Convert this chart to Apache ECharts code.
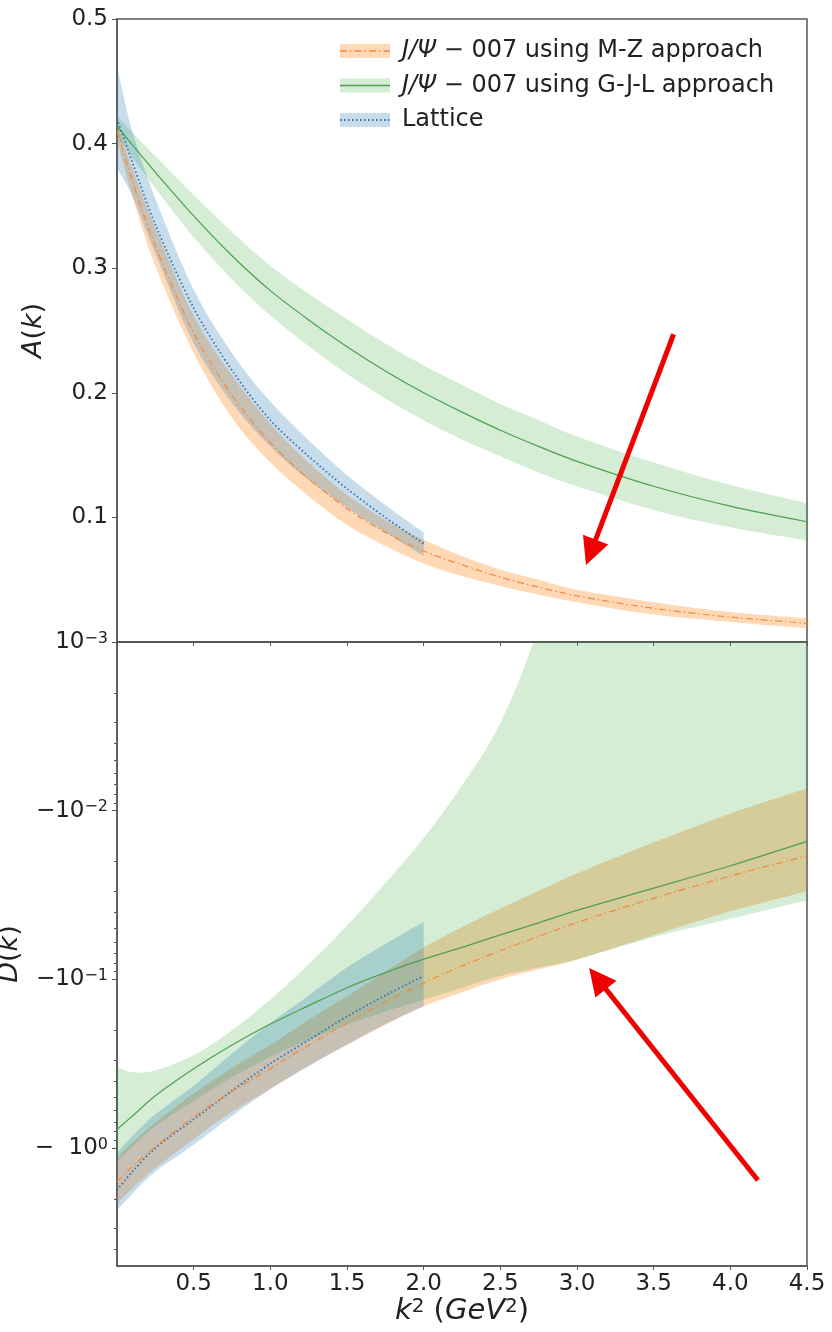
<!DOCTYPE html>
<html>
<head>
<meta charset="utf-8">
<script src="https://cdn.jsdelivr.net/npm/echarts@6.0.0/dist/echarts.min.js"></script>
<style>
html, body { margin: 0; padding: 0; background: #fff; }
#main { width: 832px; height: 1332px; }
</style>
</head>
<body>
<div id="main"></div>
<script>
// k^2 (GeV^2) sample points
var kGrid = [0, 0.1, 0.25, 0.5, 0.75, 1.0, 1.25, 1.5, 1.75, 2.0, 2.25, 2.5, 2.75, 3.0, 3.5, 4.0, 4.5];
var kLattice = [0, 0.1, 0.25, 0.5, 0.75, 1.0, 1.25, 1.5, 1.75, 2.0];

// A(k), upper panel
var mzA    = [0.410, 0.370, 0.318, 0.248, 0.198, 0.160, 0.131, 0.107, 0.088, 0.073, 0.062, 0.052, 0.044, 0.037, 0.027, 0.020, 0.015];
var mzAHi  = [0.416, 0.380, 0.332, 0.262, 0.214, 0.175, 0.144, 0.118, 0.098, 0.082, 0.069, 0.058, 0.050, 0.042, 0.032, 0.024, 0.019];
var mzALo  = [0.403, 0.358, 0.302, 0.232, 0.180, 0.144, 0.117, 0.094, 0.077, 0.063, 0.053, 0.045, 0.038, 0.032, 0.022, 0.016, 0.011];
var gjlA   = [0.414, 0.399, 0.377, 0.342, 0.310, 0.282, 0.2585, 0.237, 0.2175, 0.200, 0.1845, 0.170, 0.157, 0.145, 0.125, 0.109, 0.0965];
var gjlAHi = [0.422, 0.409, 0.390, 0.359, 0.329, 0.302, 0.2795, 0.259, 0.2395, 0.222, 0.2065, 0.191, 0.178, 0.165, 0.144, 0.126, 0.1115];
var gjlALo = [0.406, 0.389, 0.364, 0.325, 0.291, 0.262, 0.2375, 0.215, 0.1955, 0.178, 0.1625, 0.149, 0.136, 0.125, 0.106, 0.092, 0.0815];
var latA   = [0.420, 0.385, 0.335, 0.268, 0.218, 0.178, 0.149, 0.123, 0.100, 0.079];
var latAHi = [0.462, 0.410, 0.356, 0.283, 0.232, 0.193, 0.162, 0.134, 0.110, 0.088];
var latALo = [0.380, 0.358, 0.312, 0.240, 0.192, 0.157, 0.130, 0.108, 0.088, 0.069];

// |D(k)|, lower panel (D is negative, axis is -log)
var mzD    = [1.585, 1.288, 0.977, 0.656, 0.462, 0.338, 0.245, 0.182, 0.136, 0.105, 0.0832, 0.0676, 0.0556, 0.046, 0.033, 0.0244, 0.0185];
var mzDLo  = [1.148, 0.933, 0.708, 0.475, 0.335, 0.245, 0.174, 0.126, 0.0902, 0.0646, 0.049, 0.038, 0.0299, 0.0236, 0.01545, 0.0104, 0.00736];
var mzDHi  = [2.138, 1.738, 1.318, 0.885, 0.610, 0.446, 0.324, 0.245, 0.186, 0.1445, 0.119, 0.100, 0.0871, 0.0764, 0.0548, 0.0395, 0.030];
var gjlD   = [0.776, 0.646, 0.490, 0.339, 0.245, 0.184, 0.143, 0.112, 0.0912, 0.0759, 0.0646, 0.0545, 0.0462, 0.039, 0.0288, 0.0212, 0.0152];
// band edge runs off the top of the axis beyond k^2 ~ 2.7
var gjlDLo = [0.331, 0.355, 0.347, 0.282, 0.200, 0.132, 0.0813, 0.0479, 0.0269, 0.0145, 0.00708, 0.00302, 0.000794, 0.0001, 0.0001, 0.0001, 0.0001];
var gjlDHi = [1.202, 0.977, 0.741, 0.525, 0.380, 0.288, 0.229, 0.186, 0.155, 0.132, 0.112, 0.0955, 0.0851, 0.0759, 0.0562, 0.0437, 0.0339];
var latD   = [1.778, 1.380, 1.0, 0.676, 0.457, 0.316, 0.229, 0.166, 0.1245, 0.0955];
var latDLo = [1.072, 0.851, 0.631, 0.427, 0.275, 0.182, 0.1245, 0.0851, 0.0617, 0.0457];
var latDHi = [2.344, 1.862, 1.380, 0.955, 0.646, 0.447, 0.327, 0.243, 0.184, 0.1445];

// tick labels
var aTicks = [0.1, 0.2, 0.3, 0.4, 0.5];
var dMajor = [0.001, 0.01, 0.1, 1];
var dMajorLabels = ['10{s|−3}', '−10{s|−2}', '−10{s|−1}', '−  10{s|0}'];
var dMinor = [0.002, 0.003, 0.004, 0.005, 0.006, 0.007, 0.008, 0.009,
              0.02, 0.03, 0.04, 0.05, 0.06, 0.07, 0.08, 0.09,
              0.2, 0.3, 0.4, 0.5, 0.6, 0.7, 0.8, 0.9, 2, 3, 4];

// red annotation arrows (tail, head) in data units
var arrowTop = [[3.63, 0.247], [3.09, 0.072]];
var arrowBottom = [[4.18, 1.55], [3.134, 0.099]];

var names = ['{i|J/Ψ} − 007 using M-Z approach', '{i|J/Ψ} − 007 using G-J-L approach', 'Lattice'];
var fills = ['rgba(255,127,14,0.30)', 'rgba(44,160,44,0.20)', 'rgba(31,119,180,0.25)'];
var strokes = ['#f5893a', '#4f9f4f', '#3a6fae'];
var dashes = [[7, 3, 1.5, 3], null, [1.5, 2.5]];

var FONT = 'DejaVu Sans';

function curveThrough(pts, start) {
    var d = (start ? 'M ' : 'L ') + pts[0][0].toFixed(2) + ' ' + pts[0][1].toFixed(2);
    for (var i = 0; i < pts.length - 1; i++) {
        var p0 = pts[i > 0 ? i - 1 : i], p1 = pts[i], p2 = pts[i + 1];
        var p3 = pts[i + 2 < pts.length ? i + 2 : i + 1];
        d += ' C ' + (p1[0] + (p2[0] - p0[0]) / 6).toFixed(2) + ' ' + (p1[1] + (p2[1] - p0[1]) / 6).toFixed(2)
           + ' ' + (p2[0] - (p3[0] - p1[0]) / 6).toFixed(2) + ' ' + (p2[1] - (p3[1] - p1[1]) / 6).toFixed(2)
           + ' ' + p2[0].toFixed(2) + ' ' + p2[1].toFixed(2);
    }
    return d;
}

function band(k, lo, hi, color, idx) {
    return {
        type: 'custom', xAxisIndex: idx, yAxisIndex: idx, clip: true, silent: true, z: 1,
        data: k.map(function (x, i) { return [x, lo[i], hi[i]]; }),
        encode: { x: 0, y: [1, 2] },
        renderItem: function (params, api) {
            if (params.dataIndexInside !== 0) return null;
            var top = [], bot = [];
            for (var i = 0; i < params.dataInsideLength; i++) {
                top.push(api.coord([api.value(0, i), api.value(2, i)]));
                bot.push(api.coord([api.value(0, i), api.value(1, i)]));
            }
            bot.reverse();
            return {
                type: 'path',
                shape: { pathData: curveThrough(top, true) + ' ' + curveThrough(bot, false) + ' Z' },
                style: { fill: color }
            };
        }
    };
}

function centre(k, v, n, idx) {
    return {
        type: 'line', xAxisIndex: idx, yAxisIndex: idx, silent: true, z: 3,
        data: k.map(function (x, i) { return [x, v[i]]; }),
        smooth: 0.3, showSymbol: false, symbol: 'none',
        lineStyle: { color: strokes[n], width: n === 2 ? 1.8 : 1.2, type: dashes[n] || 'solid' }
    };
}

function arrow(pair) {
    return {
        silent: true, symbol: ['none', 'triangle'], symbolSize: 27,
        label: { show: false },
        lineStyle: { color: '#f00000', width: 5, type: 'solid', opacity: 1 },
        itemStyle: { color: '#f00000' },
        data: [[{ coord: pair[0] }, { coord: pair[1] }]]
    };
}

var series = [
    band(kGrid, mzALo, mzAHi, fills[0], 0),
    band(kGrid, gjlALo, gjlAHi, fills[1], 0),
    band(kLattice, latALo, latAHi, fills[2], 0),
    band(kGrid, mzDLo, mzDHi, fills[0], 1),
    band(kGrid, gjlDLo, gjlDHi, fills[1], 1),
    band(kLattice, latDLo, latDHi, fills[2], 1),
    centre(kGrid, mzA, 0, 0),
    centre(kGrid, gjlA, 1, 0),
    centre(kLattice, latA, 2, 0),
    centre(kGrid, mzD, 0, 1),
    centre(kGrid, gjlD, 1, 1),
    centre(kLattice, latD, 2, 1)
];
series[6].markLine = arrow(arrowTop);
series[9].markLine = arrow(arrowBottom);
series[6].z = 5; series[9].z = 5;

var axisColor = '#555';
var sup = { fontSize: 16, verticalAlign: 'top', fontFamily: FONT, color: '#222' };
var labelStyle = { color: '#222', fontSize: 23, fontFamily: FONT, rich: { s: sup } };
var italic = { fontStyle: 'italic', fontSize: 27, fontFamily: FONT, color: '#222' };

// legend drawn as graphic rows
var legendRows = [];
names.forEach(function (nm, i) {
    var cy = 51 + i * 34.5;
    legendRows.push(
        { type: 'rect', shape: { x: 340, y: cy - 7, width: 50, height: 14 }, style: { fill: fills[i] } },
        { type: 'line', shape: { x1: 340, y1: cy, x2: 390, y2: cy },
          style: { stroke: strokes[i], lineWidth: i === 2 ? 1.8 : 1.6, lineDash: dashes[i] } },
        { type: 'text', x: 402, y: cy,
          style: { text: nm, fill: '#222', fontSize: 24, fontFamily: FONT, verticalAlign: 'middle',
                   rich: { i: { fontStyle: 'italic', fontSize: 24, fontFamily: FONT, fill: '#222' } } } }
    );
});

var chart = echarts.init(document.getElementById('main'));
chart.setOption({
    backgroundColor: '#fff',
    animation: false,
    textStyle: { fontFamily: FONT },
    grid: [
        { left: 117, top: 19, width: 690, height: 623, show: true, borderColor: axisColor, borderWidth: 1.5, outerBoundsMode: 'none' },
        { left: 117, top: 642, width: 690, height: 624, show: true, borderColor: axisColor, borderWidth: 1.5, outerBoundsMode: 'none' }
    ],
    xAxis: [
        { type: 'value', gridIndex: 0, min: 0, max: 4.5, interval: 0.5,
          axisLine: { onZero: false, lineStyle: { color: axisColor, width: 1.5 } },
          axisTick: { length: 4, lineStyle: { color: axisColor } },
          axisLabel: { show: false }, splitLine: { show: false } },
        { type: 'value', gridIndex: 1, min: 0, max: 4.5, interval: 0.5,
          axisLine: { onZero: false, lineStyle: { color: axisColor, width: 1.5 } },
          axisTick: { length: 4, lineStyle: { color: axisColor } },
          axisLabel: Object.assign({ margin: 7, showMinLabel: false, formatter: function (v) { return v.toFixed(1); } }, labelStyle),
          splitLine: { show: false },
          name: '{i|k}{s|2} ({i|GeV}{s|2})', nameLocation: 'middle', nameGap: 26,
          nameTextStyle: { fontSize: 29, color: '#222', fontFamily: FONT,
                           rich: { i: Object.assign({}, italic, { fontSize: 29 }),
                                   s: { fontSize: 20, verticalAlign: 'top', fontFamily: FONT, color: '#222' } } } }
    ],
    yAxis: [
        { type: 'value', gridIndex: 0, min: 0, max: 0.5, interval: 0.1,
          axisLine: { lineStyle: { color: axisColor, width: 1.5 } },
          axisTick: { length: 5, lineStyle: { color: axisColor } },
          axisLabel: Object.assign({ margin: 9, customValues: aTicks, formatter: function (v) { return v.toFixed(1); } }, labelStyle),
          splitLine: { show: false },
          name: '{i|A}({i|k})', nameLocation: 'middle', nameGap: 70,
          nameTextStyle: { fontSize: 27, color: '#222', fontFamily: FONT, rich: { i: italic } } },
        { type: 'log', gridIndex: 1, logBase: 10, min: 0.001, max: 5, inverse: true, position: 'left',
          axisLine: { lineStyle: { color: axisColor, width: 1.5 } },
          axisTick: { length: 5, customValues: dMajor, lineStyle: { color: axisColor } },
          axisLabel: Object.assign({ margin: 9, customValues: dMajor, formatter: function (v) {
              return dMajorLabels[Math.round(Math.log10(v)) + 3];
          } }, labelStyle),
          splitLine: { show: false },
          name: '{i|D}({i|k})', nameLocation: 'middle', nameGap: 70,
          nameTextStyle: { fontSize: 27, color: '#222', fontFamily: FONT, rich: { i: italic } } },
        { type: 'log', gridIndex: 1, logBase: 10, min: 0.001, max: 5, inverse: true, position: 'left', offset: 0,
          axisLine: { show: false },
          axisTick: { length: 3, customValues: dMinor, lineStyle: { color: axisColor } },
          axisLabel: { show: false }, splitLine: { show: false } }
    ],
    graphic: legendRows,
    series: series
});
</script>
</body>
</html>
